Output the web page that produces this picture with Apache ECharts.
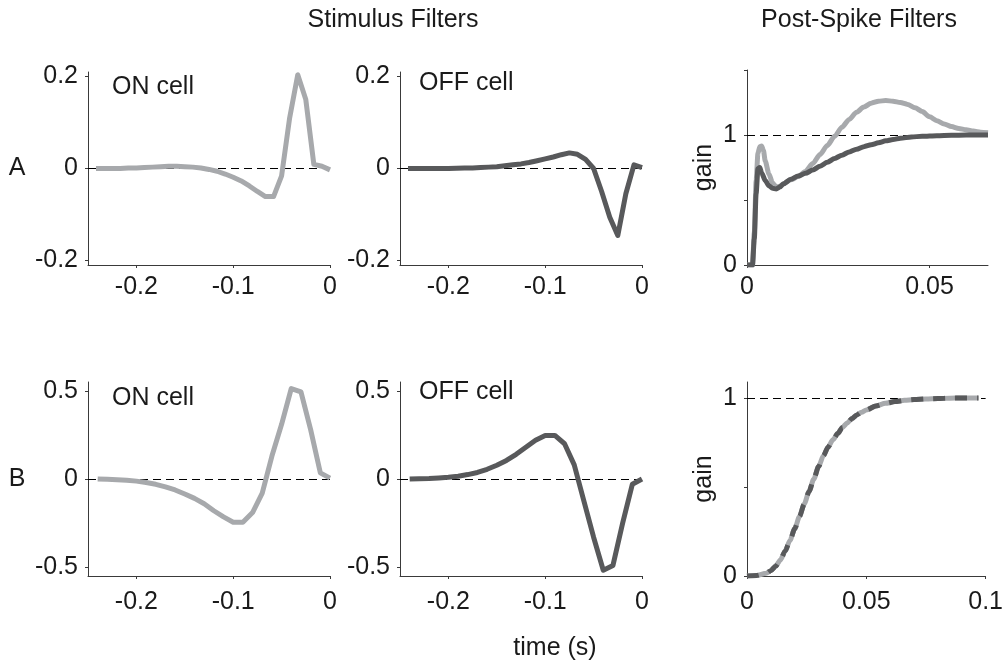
<!DOCTYPE html>
<html>
<head>
<meta charset="utf-8">
<script src="https://cdn.jsdelivr.net/npm/echarts@6/dist/echarts.min.js"></script>
<style>
  html, body { margin: 0; padding: 0; background: #fff; }
  #chart { width: 1006px; height: 667px; }
</style>
</head>
<body>
<div id="chart"></div>
<script>
// ---- Row A: stimulus filters sampled at 1/120 s (time before spike, s) ----
const lagA = [0, -0.0083, -0.0167, -0.025, -0.0333, -0.0417, -0.05, -0.0583, -0.0667, -0.075,
  -0.0833, -0.0917, -0.1, -0.1083, -0.1167, -0.125, -0.1333, -0.1417, -0.15, -0.1583,
  -0.1667, -0.175, -0.1833, -0.1917, -0.2, -0.2083, -0.2167, -0.225, -0.2333, -0.2417];
const onA = [-0.003, 0.005, 0.009, 0.15, 0.204, 0.11, -0.016, -0.061, -0.061, -0.05,
  -0.038, -0.027, -0.019, -0.012, -0.006, -0.002, 0.001, 0.003, 0.004, 0.005,
  0.005, 0.004, 0.003, 0.002, 0.001, 0.001, 0.0, 0.0, 0.0, 0.0];
const offA = [0.002, 0.008, -0.055, -0.146, -0.106, -0.05, 0.0, 0.02, 0.031, 0.034,
  0.03, 0.025, 0.021, 0.017, 0.013, 0.01, 0.008, 0.006, 0.004, 0.003,
  0.002, 0.001, 0.001, 0.0005, 0.0, 0.0, 0.0, 0.0, 0.0, 0.0];

// ---- Row A: post-spike gain ----
const psTimeOnA = [0, 0.0015, 0.002, 0.0025, 0.003, 0.0035, 0.004, 0.0045, 0.005, 0.006,
  0.007, 0.008, 0.009, 0.010, 0.012, 0.014, 0.016, 0.018, 0.020, 0.022,
  0.024, 0.026, 0.028, 0.030, 0.032, 0.034, 0.036, 0.038, 0.040, 0.042,
  0.044, 0.046, 0.048, 0.050, 0.052, 0.054, 0.056, 0.058, 0.060, 0.062,
  0.064, 0.066];
const psGainOnA = [0, 0, 0.25, 0.65, 0.86, 0.91, 0.915, 0.88, 0.8, 0.7,
  0.63, 0.6, 0.605, 0.625, 0.655, 0.68, 0.72, 0.78, 0.85, 0.92,
  0.99, 1.06, 1.12, 1.175, 1.215, 1.245, 1.26, 1.265, 1.26, 1.25,
  1.235, 1.21, 1.18, 1.14, 1.11, 1.085, 1.065, 1.05, 1.04, 1.03,
  1.022, 1.018];
const psTimeOffA = [0, 0.0015, 0.002, 0.0025, 0.003, 0.0035, 0.004, 0.005, 0.006, 0.007,
  0.008, 0.009, 0.010, 0.012, 0.014, 0.016, 0.018, 0.020, 0.022, 0.024,
  0.026, 0.028, 0.030, 0.032, 0.034, 0.036, 0.038, 0.040, 0.042, 0.045,
  0.048, 0.052, 0.056, 0.060, 0.066];
const psGainOffA = [0, 0, 0.2, 0.55, 0.74, 0.75, 0.71, 0.65, 0.61, 0.59,
  0.585, 0.6, 0.625, 0.66, 0.685, 0.705, 0.73, 0.76, 0.79, 0.82,
  0.845, 0.87, 0.89, 0.91, 0.925, 0.94, 0.955, 0.965, 0.975, 0.985,
  0.99, 0.995, 0.998, 1.0, 1.0];

// ---- Row B: stimulus filters sampled at 0.01 s ----
const lagB = [0, -0.01, -0.02, -0.03, -0.04, -0.05, -0.06, -0.07, -0.08, -0.09,
  -0.1, -0.11, -0.12, -0.13, -0.14, -0.15, -0.16, -0.17, -0.18, -0.19,
  -0.2, -0.21, -0.22, -0.23, -0.24];
const onB = [0.005, 0.035, 0.28, 0.494, 0.513, 0.31, 0.13, -0.08, -0.19, -0.245,
  -0.245, -0.215, -0.18, -0.14, -0.11, -0.085, -0.062, -0.045, -0.03, -0.02,
  -0.012, -0.007, -0.004, -0.002, 0.0];
const offB = [0.0, -0.03, -0.25, -0.49, -0.517, -0.33, -0.125, 0.08, 0.2, 0.247,
  0.247, 0.22, 0.18, 0.14, 0.105, 0.078, 0.055, 0.037, 0.025, 0.016,
  0.01, 0.006, 0.003, 0.002, 0.0];

// ---- Row B: post-spike gain (same for both cells) ----
const psTimeB = [0, 0.004, 0.008, 0.010, 0.012, 0.014, 0.016, 0.018, 0.020, 0.022,
  0.024, 0.026, 0.028, 0.030, 0.032, 0.034, 0.036, 0.038, 0.040, 0.042,
  0.044, 0.046, 0.048, 0.050, 0.054, 0.058, 0.062, 0.066, 0.070, 0.075,
  0.080, 0.085, 0.090, 0.097];
const psGainB = [0, 0.003, 0.015, 0.03, 0.055, 0.09, 0.14, 0.2, 0.265, 0.335,
  0.405, 0.475, 0.545, 0.615, 0.675, 0.725, 0.765, 0.8, 0.835, 0.86,
  0.885, 0.905, 0.92, 0.933, 0.955, 0.97, 0.98, 0.987, 0.991, 0.995,
  0.997, 0.999, 1.0, 1.0];

// ---- tick labels ----
const lagTicks = [-0.2, -0.1, 0];
const stimTicksA = [-0.2, 0, 0.2];
const stimTicksB = [-0.5, 0, 0.5];
const psTicksA = [0, 0.05];
const psTicksB = [0, 0.05, 0.1];
const gainTicks = [0, 0.5, 1];
const gainLabels = [0, 1];

const LIGHT = '#a7a9ac';
const DARK = '#58595b';
const AXIS = '#3a3a3a';
const TEXT = '#1a1a1a';
const FONT = '"Liberation Sans", Arial, Helvetica, sans-serif';
const FS = 25;

const zip = (xs, ys) => xs.map((x, i) => [x, ys[i]]);

function xAxis(gi, min, max, ticks, margin) {
  return {
    type: 'value', gridIndex: gi, min: min, max: max,
    axisLine: { show: true, onZero: false, lineStyle: { color: AXIS, width: 1 } },
    axisTick: { show: true, inside: false, length: 3, customValues: ticks, lineStyle: { color: AXIS } },
    axisLabel: { customValues: ticks, margin: margin, fontSize: FS, fontFamily: FONT, color: TEXT },
    splitLine: { show: false }
  };
}
function yAxis(gi, min, max, ticks, labels, name) {
  const ax = {
    type: 'value', gridIndex: gi, min: min, max: max,
    axisLine: { show: true, onZero: false, lineStyle: { color: AXIS, width: 1 } },
    axisTick: { show: true, inside: false, length: 3, customValues: ticks, lineStyle: { color: AXIS } },
    axisLabel: { customValues: labels, margin: 10, fontSize: FS, fontFamily: FONT, color: TEXT },
    splitLine: { show: false }
  };
  if (name) {
    Object.assign(ax, {
      name: name, nameLocation: 'middle', nameRotate: 90, nameGap: 30,
      nameTextStyle: { fontSize: FS, fontFamily: FONT, color: TEXT }
    });
  }
  return ax;
}
function refLine(y) {
  return {
    silent: true, symbol: 'none', z: 1, label: { show: false },
    lineStyle: { color: '#000', width: 1, type: [8, 5] },
    data: [{ yAxis: y }]
  };
}
function curve(gi, data, color, ref, extra) {
  const s = {
    type: 'line', xAxisIndex: gi, yAxisIndex: gi, data: data,
    symbol: 'none', showSymbol: false, animation: false, z: 2,
    lineStyle: { width: 5, color: color, cap: 'butt', join: 'round' }
  };
  if (ref !== null && ref !== undefined) s.markLine = refLine(ref);
  return Object.assign(s, extra || {});
}

const chart = echarts.init(document.getElementById('chart'), null, { renderer: 'canvas' });

chart.setOption({
  backgroundColor: '#fff',
  animation: false,
  grid: [
    { left: 88, top: 72, width: 242, height: 193 },
    { left: 400, top: 72, width: 242, height: 193 },
    { left: 747, top: 70, width: 241, height: 195 },
    { left: 88, top: 382, width: 242, height: 194 },
    { left: 400, top: 382, width: 242, height: 194 },
    { left: 747, top: 382, width: 241, height: 194 }
  ],
  xAxis: [
    xAxis(0, -0.25, 0, lagTicks, 10),
    xAxis(1, -0.25, 0, lagTicks, 10),
    xAxis(2, 0, 0.066, psTicksA, 10),
    xAxis(3, -0.25, 0, lagTicks, 14),
    xAxis(4, -0.25, 0, lagTicks, 14),
    xAxis(5, 0, 0.1, psTicksB, 14)
  ],
  yAxis: [
    yAxis(0, -0.21, 0.21, stimTicksA, stimTicksA),
    yAxis(1, -0.21, 0.21, stimTicksA, stimTicksA),
    yAxis(2, 0, 1.5, [0, 0.5, 1, 1.5], gainLabels, 'gain'),
    yAxis(3, -0.55, 0.55, stimTicksB, stimTicksB),
    yAxis(4, -0.55, 0.55, stimTicksB, stimTicksB),
    yAxis(5, 0, 1.09, gainTicks, gainLabels, 'gain')
  ],
  series: [
    curve(0, zip(lagA, onA), LIGHT, 0),
    curve(1, zip(lagA, offA), DARK, 0),
    curve(2, zip(psTimeOnA, psGainOnA), LIGHT, 1, { smooth: 0.25, smoothMonotone: 'x' }),
    curve(2, zip(psTimeOffA, psGainOffA), DARK, null, { smooth: 0.25, smoothMonotone: 'x', z: 3 }),
    curve(3, zip(lagB, onB), LIGHT, 0),
    curve(4, zip(lagB, offB), DARK, 0),
    curve(5, zip(psTimeB, psGainB), LIGHT, 1, { smooth: 0.25, smoothMonotone: 'x' }),
    curve(5, zip(psTimeB, psGainB), DARK, null, {
      smooth: 0.25, smoothMonotone: 'x', z: 3,
      lineStyle: { width: 5, color: DARK, type: [12, 10], cap: 'butt' }
    })
  ],
  graphic: [
    { type: 'text', x: 393, y: 20, style: { text: 'Stimulus Filters', font: FS + 'px ' + FONT, fill: TEXT, align: 'center', verticalAlign: 'middle' } },
    { type: 'text', x: 859, y: 20, style: { text: 'Post-Spike Filters', font: FS + 'px ' + FONT, fill: TEXT, align: 'center', verticalAlign: 'middle' } },
    { type: 'text', x: 555, y: 648, style: { text: 'time (s)', font: FS + 'px ' + FONT, fill: TEXT, align: 'center', verticalAlign: 'middle' } },
    { type: 'text', x: 17, y: 168, style: { text: 'A', font: FS + 'px ' + FONT, fill: TEXT, align: 'center', verticalAlign: 'middle' } },
    { type: 'text', x: 17, y: 479, style: { text: 'B', font: FS + 'px ' + FONT, fill: TEXT, align: 'center', verticalAlign: 'middle' } },
    { type: 'text', x: 112, y: 87, style: { text: 'ON cell', font: FS + 'px ' + FONT, fill: TEXT, align: 'left', verticalAlign: 'middle' } },
    { type: 'text', x: 419, y: 83, style: { text: 'OFF cell', font: FS + 'px ' + FONT, fill: TEXT, align: 'left', verticalAlign: 'middle' } },
    { type: 'text', x: 112, y: 398, style: { text: 'ON cell', font: FS + 'px ' + FONT, fill: TEXT, align: 'left', verticalAlign: 'middle' } },
    { type: 'text', x: 419, y: 392, style: { text: 'OFF cell', font: FS + 'px ' + FONT, fill: TEXT, align: 'left', verticalAlign: 'middle' } }
  ]
});
</script>
</body>
</html>
